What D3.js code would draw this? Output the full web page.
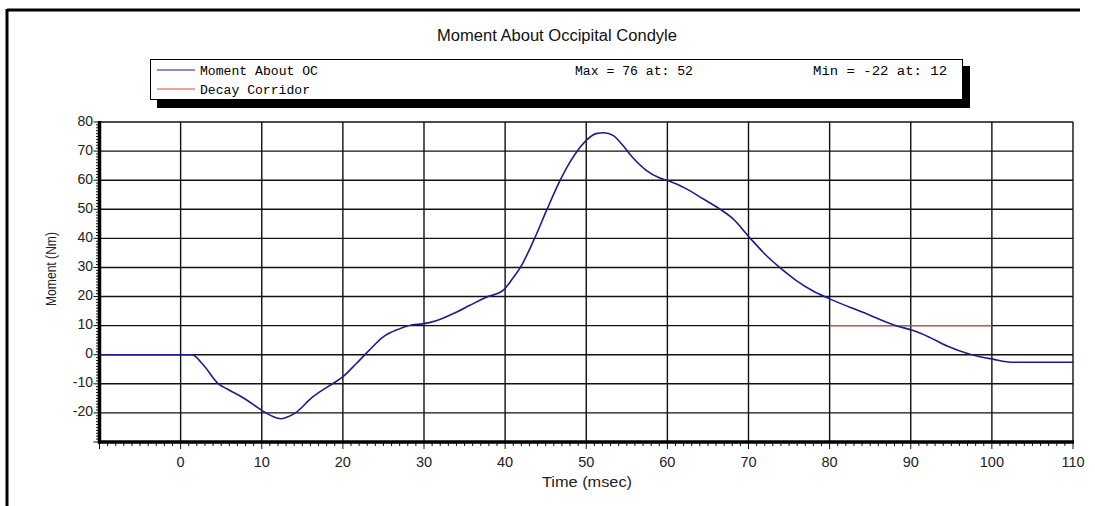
<!DOCTYPE html>
<html><head><meta charset="utf-8">
<script src="https://cdn.jsdelivr.net/npm/d3@7"></script>
<style>html,body{margin:0;padding:0;background:#fff;overflow:hidden}svg{display:block;overflow:hidden}</style>
</head><body>
<script>
const timeMs = [-10,0,1.4,2.7,4.7,5.75,8.0,10.1,11.7,12.4,13.0,14.2,16.2,18.3,19.9,21.6,23.2,24.9,26.9,28.6,29.8,31.5,33.5,35.6,37.6,39.7,40.9,41.9,43.6,45.2,46.7,47.9,49.1,50.0,51.2,52.2,53.3,54.5,55.7,57.4,59.0,60.2,62.3,64.4,66.4,68.1,70.1,72.2,73.8,75.9,77.9,80.0,84.1,88.2,90.3,92.3,94.4,97.3,100.1,102.6,110];
const momentNm = [0,0,0,-3.2,-10.1,-11.8,-15.3,-19.3,-21.6,-22,-21.6,-19.9,-14.7,-10.7,-7.8,-3.2,1.4,6.0,8.8,10.3,10.6,11.7,14.0,16.9,19.7,22.0,26.1,30.1,39.8,50.2,59.5,65.8,70.8,73.7,76.0,76.3,75.4,72.0,67.9,63.4,60.8,59.7,57.1,53.6,50.2,46.7,40.4,34.1,30.1,25.5,22.0,19.2,14.6,10.0,8.3,6.0,3.1,0.2,-1.5,-2.6,-2.6];
const corridorTime = [80,100];
const corridorMoment = [10,10];
const xTicks = [0,10,20,30,40,50,60,70,80,90,100,110];
const yTicks = [-20,-10,0,10,20,30,40,50,60,70,80];
const legendLabels = ["Moment About OC","Decay Corridor"];
const statLabels = ["Max = 76 at: 52","Min = -22 at: 12"];
const titleText = "Moment About Occipital Condyle";
const xTitle = "Time (msec)";
const yTitle = "Moment (Nm)";

const W=1095,H=506;
const svg=d3.select("body").append("svg").attr("width",W).attr("height",H);
svg.append("rect").attr("width",W).attr("height",H).attr("fill","#fff");
// outer frame: top and left edges
svg.append("line").attr("x1",7).attr("x2",1080).attr("y1",10).attr("y2",10).attr("stroke","#000").attr("stroke-width",3);
svg.append("line").attr("x1",7).attr("x2",7).attr("y1",9).attr("y2",H+5).attr("stroke","#000").attr("stroke-width",3);

const x=d3.scaleLinear().domain([-10,110]).range([99.5,1073]);
const y=d3.scaleLinear().domain([-30,80]).range([442,122]);

svg.append("text").attr("x",557).attr("y",41).attr("text-anchor","middle")
  .attr("font-family","Liberation Sans, Arial, sans-serif").attr("font-size",16)
  .attr("textLength",240).attr("lengthAdjust","spacingAndGlyphs").attr("fill","#111").text(titleText);

svg.append("rect").attr("x",157).attr("y",66).attr("width",813).attr("height",42).attr("fill","#000");
svg.append("rect").attr("x",150.5).attr("y",59.5).attr("width",812).attr("height",40).attr("fill","#fff").attr("stroke","#000").attr("stroke-width",1);
const legColors=["#1c1c8c","#e84848"];
const legY=[70,89];
const mono="Liberation Mono, Courier New, monospace";
legendLabels.forEach((t,i)=>{
  svg.append("line").attr("x1",157).attr("x2",195).attr("y1",legY[i]).attr("y2",legY[i]).attr("stroke",legColors[i]).attr("stroke-width",1.2);
  svg.append("text").attr("x",200).attr("y",legY[i]+4.5).attr("font-family",mono)
    .attr("font-size",12).attr("textLength",i==0?118:110).attr("lengthAdjust","spacingAndGlyphs").text(t);
});
svg.append("text").attr("x",575).attr("y",74.5).attr("font-family",mono)
  .attr("font-size",12).attr("textLength",118).attr("lengthAdjust","spacingAndGlyphs").text(statLabels[0]);
svg.append("text").attr("x",813).attr("y",74.5).attr("font-family",mono)
  .attr("font-size",12).attr("textLength",134).attr("lengthAdjust","spacingAndGlyphs").text(statLabels[1]);

const g=svg.append("g");
g.selectAll(".vg").data(xTicks).enter().append("line")
  .attr("x1",d=>x(d)).attr("x2",d=>x(d)).attr("y1",y(80)).attr("y2",y(-30))
  .attr("stroke","#111").attr("stroke-width",1.4);
g.selectAll(".hg").data(yTicks).enter().append("line")
  .attr("x1",x(-10)).attr("x2",x(110)).attr("y1",d=>y(d)).attr("y2",d=>y(d))
  .attr("stroke","#111").attr("stroke-width",1.4);

const xMinor=d3.range(-10,111,1), yMinor=d3.range(-30,81,1);
g.selectAll(".xt").data(xMinor).enter().append("line")
  .attr("x1",d=>x(d)).attr("x2",d=>x(d)).attr("y1",y(-30)).attr("y2",d=>y(-30)+(d%10===0?7:4))
  .attr("stroke","#111").attr("stroke-width",1);
g.selectAll(".yt").data(yMinor).enter().append("line")
  .attr("y1",d=>y(d)).attr("y2",d=>y(d)).attr("x1",x(-10)).attr("x2",d=>x(-10)-(d%10===0?6:3.5))
  .attr("stroke","#111").attr("stroke-width",1);
g.append("line").attr("x1",x(-10)).attr("x2",x(-10)).attr("y1",y(80)-1).attr("y2",y(-30)+1.5).attr("stroke","#000").attr("stroke-width",3.5);
g.append("line").attr("x1",x(-10)-1.5).attr("x2",x(110)+1).attr("y1",y(-30)).attr("y2",y(-30)).attr("stroke","#000").attr("stroke-width",3.5);

const font="Liberation Sans, Arial, sans-serif";
g.selectAll(".xl").data(xTicks).enter().append("text").attr("x",d=>x(d)).attr("y",467)
  .attr("text-anchor","middle").attr("font-family",font).attr("font-size",14.5).attr("fill","#222").text(d=>d);
g.selectAll(".yl").data(yTicks).enter().append("text").attr("x",93).attr("y",d=>y(d)+3.5)
  .attr("text-anchor","end").attr("font-family",font).attr("font-size",14).attr("fill","#222").text(d=>d);

svg.append("text").attr("x",587).attr("y",487).attr("text-anchor","middle").attr("font-family",font)
  .attr("font-size",14).attr("textLength",90).attr("lengthAdjust","spacingAndGlyphs").attr("fill","#222").text(xTitle);
svg.append("text").attr("transform","translate(56,269) rotate(-90)").attr("text-anchor","middle").attr("font-family",font)
  .attr("font-size",14.5).attr("textLength",74).attr("lengthAdjust","spacingAndGlyphs").attr("fill","#222").text(yTitle);

const line=d3.line().x(d=>x(d[0])).y(d=>y(d[1])).curve(d3.curveMonotoneX);
svg.append("path").datum(corridorTime.map((t,i)=>[t,corridorMoment[i]]))
  .attr("d",line).attr("fill","none").attr("stroke","#e84848").attr("stroke-width",1.2);
svg.append("path").datum(timeMs.map((t,i)=>[t,momentNm[i]]))
  .attr("d",line).attr("fill","none").attr("stroke","#1c1c8c").attr("stroke-width",1.6);
</script>
</body></html>
